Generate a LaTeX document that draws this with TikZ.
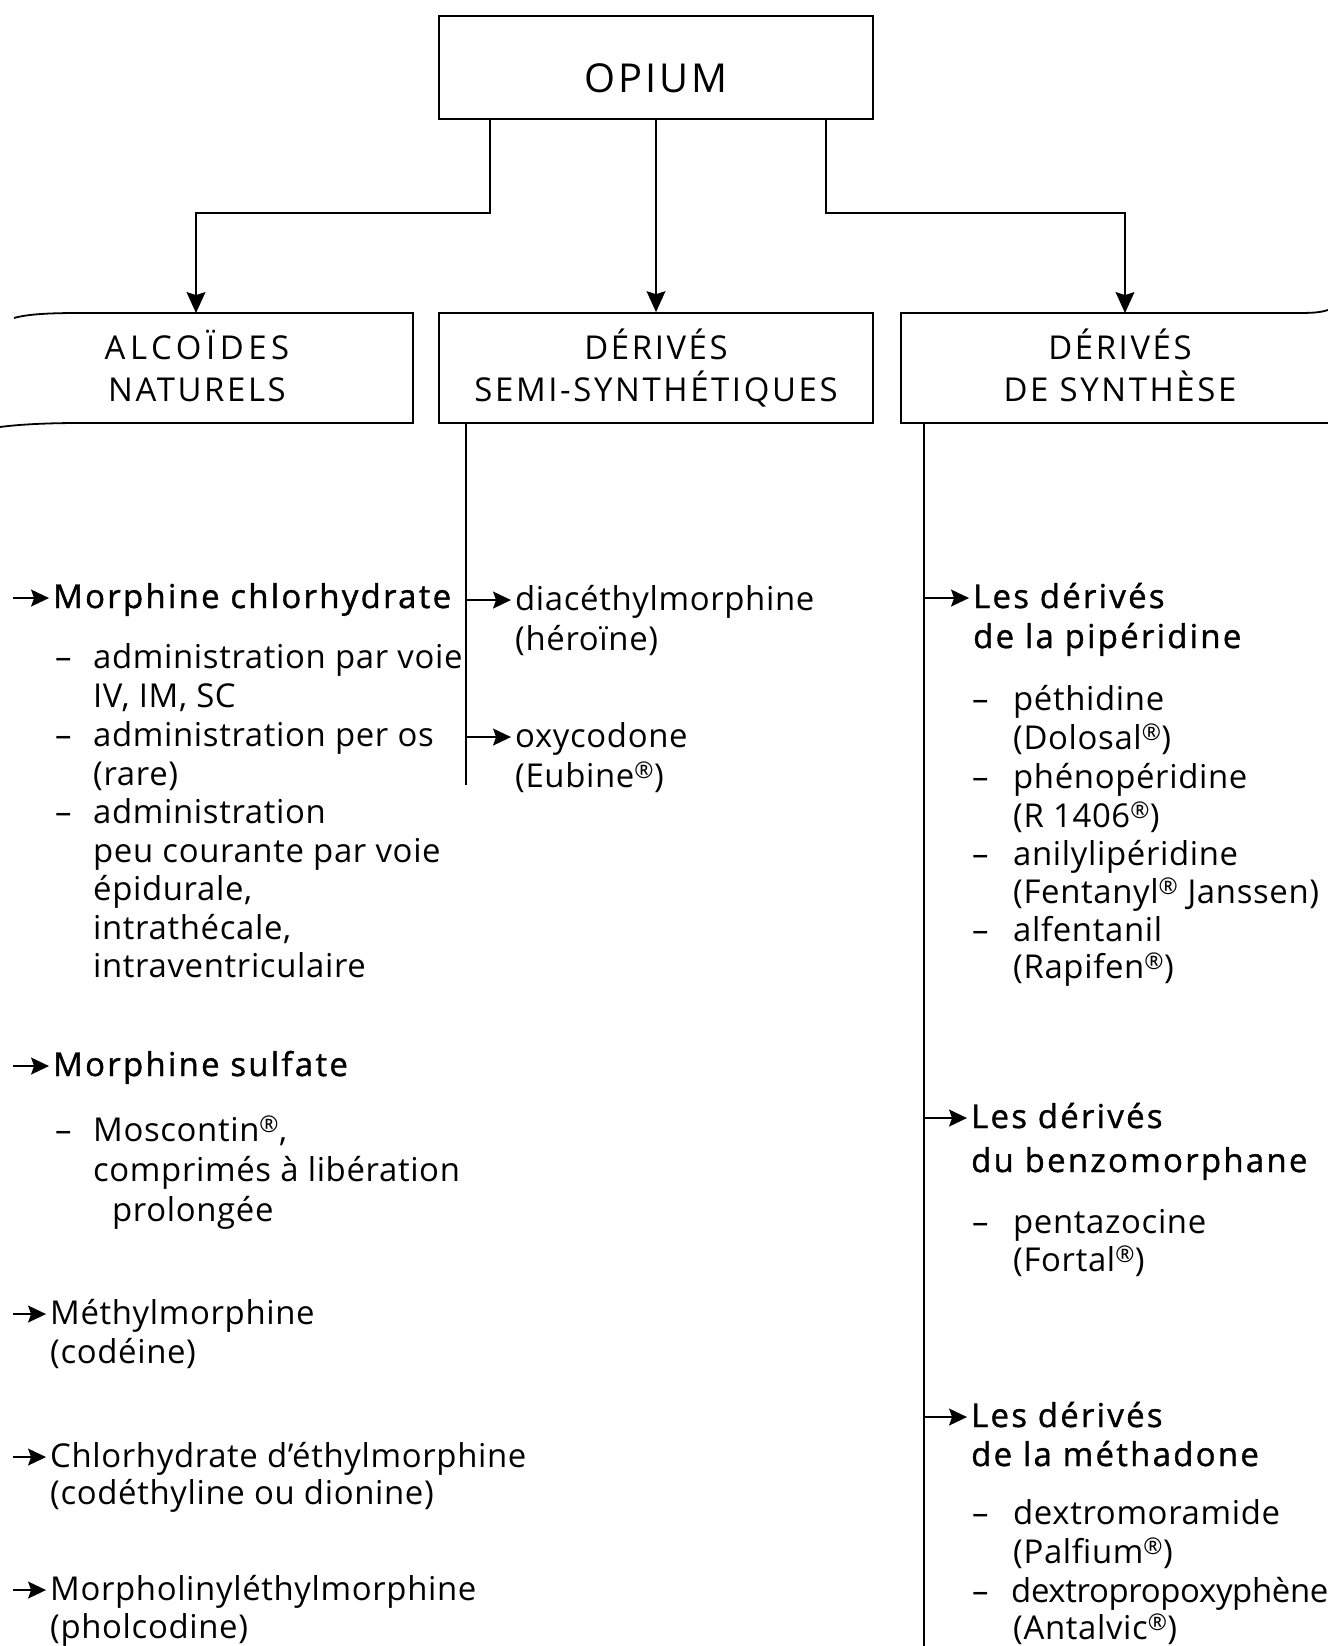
\documentclass[tikz,border=0pt]{standalone}
\usepackage{fontspec}
\setmainfont{Open Sans}[LetterSpace=2]
\newfontfamily\hfont{Open Sans}[FakeBold=1.2,LetterSpace=7]
\newfontfamily\capfont{Open Sans}[LetterSpace=8]
\usetikzlibrary{arrows.meta}
\newcommand\reg{\textsuperscript{®}}
\newcommand\itemarrow[2]{%
  \coordinate (#1A) at ([xshift=-4pt,yshift=10pt]#1.base west);
  \draw[iarr] (#1A -| #2) -- (#1A);}
\begin{document}
\begin{tikzpicture}[x=1bp,y=-1bp,
  txt/.style={anchor=base west,inner sep=0pt,font=\fontsize{33}{38}\selectfont},
  hd/.style={anchor=base west,inner sep=0pt,font=\hfont\fontsize{33}{38}\selectfont},
  captxt/.style={inner sep=0pt,align=center,font=\capfont\fontsize{33}{42}\selectfont},
  boxline/.style={line width=1.8pt},
  ln/.style={line width=1.2pt},
  arr/.style={line width=1.2pt,-{Stealth[length=21pt,width=19pt,inset=3pt]}},
  iarr/.style={line width=1.8pt,-{Stealth[length=18pt,width=17pt,inset=3pt]}}]
\fill[white] (0,0) rectangle (1328,1646);
\path[use as bounding box] (0,0) rectangle (1328,1646);

% OPIUM
\node[draw,boxline,minimum width=434bp,minimum height=103bp,inner sep=0pt] (opium) at (656,67.5) {};
\node[captxt,font=\capfont\fontsize{40}{44}\selectfont] (opiumtxt) at (656,78) {OPIUM};

% header boxes
\node[draw,boxline,minimum width=434bp,minimum height=110bp,inner sep=0pt] (mid) at (656,368) {};
\node[captxt] (midtxt) at (656,368) {DÉRIVÉS\\SEMI-SYNTHÉTIQUES};
\node[captxt] (nattxt) at (197,366) {{\addfontfeatures{LetterSpace=14}ALCOÏDES}\\NATURELS};
\node[captxt] (syntxt) at (1120,365) {DÉRIVÉS\\DE SYNTHÈSE};
\draw[boxline] (14,318) .. controls (28,314) and (50,313) .. (80,313) -- (413,313) -- (413,423) -- (80,423) .. controls (40,423) and (15,425) .. (0,427);
\draw[boxline] (1328,423) -- (901,423) -- (901,313) -- (1300,313) .. controls (1315,313) and (1322,312) .. (1328,310);

% connectors from OPIUM
\coordinate (k1) at (490,213);
\coordinate (k2) at (196,213);
\coordinate (natTop) at (196,313);
\coordinate (k3) at (826,213);
\coordinate (k4) at (1125,213);
\coordinate (synTop) at (1125,313);
\draw[arr] (opium.south -| k1) -- (k1) -- (k2) -- (natTop);
\draw[arr] (opium.south) -- (mid.north);
\draw[arr] (opium.south -| k3) -- (k3) -- (k4) -- (synTop);

% verticals
\coordinate (Lx) at (13,0);
\coordinate (mv) at (466,785);
\coordinate (rtop) at (924,423);
\coordinate (rv) at (924,1646);
\draw[ln] (mid.south -| mv) -- (mv);
\draw[ln] (rtop) -- (rv);

% left column
\node[hd] (mc) at (53,608) {Morphine chlorhydrate};
\node[txt] (d1) at (55,668) {–};
\node[txt] (mc1) at (93,668) {administration par voie};
\node[txt] (mc2) at (93,707) {IV, IM, SC};
\node[txt] (d2) at (55,746) {–};
\node[txt] (mc3) at (93,746) {administration per os};
\node[txt] (mc4) at (93,785) {(rare)};
\node[txt] (d3) at (55,823) {–};
\node[txt] (mc5) at (93,823) {administration};
\node[txt] (mc6) at (93,862) {peu courante par voie};
\node[txt] (mc7) at (93,900) {épidurale,};
\node[txt] (mc8) at (93,939) {intrathécale,};
\node[txt] (mc9) at (93,977) {intraventriculaire};

\node[hd] (ms) at (53,1076) {Morphine sulfate};
\node[txt] (d4) at (55,1141) {–};
\node[txt] (ms1) at (93,1141) {Moscontin\reg,};
\node[txt] (ms2) at (93,1181) {comprimés à libération};
\node[txt] (ms3) at (112,1221) {prolongée};

\node[txt] (me) at (50,1324) {Méthylmorphine};
\node[txt] (me1) at (50,1363) {(codéine)};
\node[txt] (ch) at (50,1467) {Chlorhydrate d’éthylmorphine};
\node[txt] (ch1) at (50,1504) {(codéthyline ou dionine)};
\node[txt] (mo) at (50,1600) {Morpholinyléthylmorphine};
\node[txt] (mo1) at (50,1638) {(pholcodine)};

\itemarrow{mc}{Lx}
\itemarrow{ms}{Lx}
\itemarrow{me}{Lx}
\itemarrow{ch}{Lx}
\itemarrow{mo}{Lx}

% middle column
\node[txt] (di) at (515,610) {diacéthylmorphine};
\node[txt] (di1) at (515,650) {(héroïne)};
\node[txt] (ox) at (515,747) {oxycodone};
\node[txt] (ox1) at (515,787) {(Eubine\reg)};
\itemarrow{di}{mv}
\itemarrow{ox}{mv}

% right column
\node[hd] (pp) at (973,608) {Les dérivés};
\node[hd] (pp1) at (973,648) {de la pipéridine};
\node[txt] (d5) at (972,710) {–};
\node[txt] (pp2) at (1013,710) {péthidine};
\node[txt] (pp3) at (1013,749) {(Dolosal\reg)};
\node[txt] (d6) at (972,788) {–};
\node[txt] (pp4) at (1013,788) {phénopéridine};
\node[txt] (pp5) at (1013,827) {(R 1406\reg)};
\node[txt] (d7) at (972,865) {–};
\node[txt] (pp6) at (1013,865) {anilylipéridine};
\node[txt] (pp7) at (1013,903) {(Fentanyl\reg{} Janssen)};
\node[txt] (d8) at (972,941) {–};
\node[txt] (pp8) at (1013,941) {alfentanil};
\node[txt] (pp9) at (1013,978) {(Rapifen\reg)};

\node[hd] (bz) at (971,1128) {Les dérivés};
\node[hd] (bz1) at (971,1172) {du benzomorphane};
\node[txt] (d9) at (972,1233) {–};
\node[txt] (bz2) at (1013,1233) {pentazocine};
\node[txt] (bz3) at (1013,1271) {(Fortal\reg)};

\node[hd] (md) at (971,1427) {Les dérivés};
\node[hd] (md1) at (971,1466) {de la méthadone};
\node[txt] (d10) at (972,1524) {–};
\node[txt] (md2) at (1013,1524) {dextromoramide};
\node[txt] (md3) at (1013,1563) {(Palfium\reg)};
\node[txt] (d11) at (972,1602) {–};
\node[txt] (md4) at (1011,1602) {\addfontfeatures{LetterSpace=-1}dextropropoxyphène};
\node[txt] (md5) at (1013,1639) {(Antalvic\reg)};

\itemarrow{pp}{rv}
\itemarrow{bz}{rv}
\itemarrow{md}{rv}
\end{tikzpicture}
\end{document}
